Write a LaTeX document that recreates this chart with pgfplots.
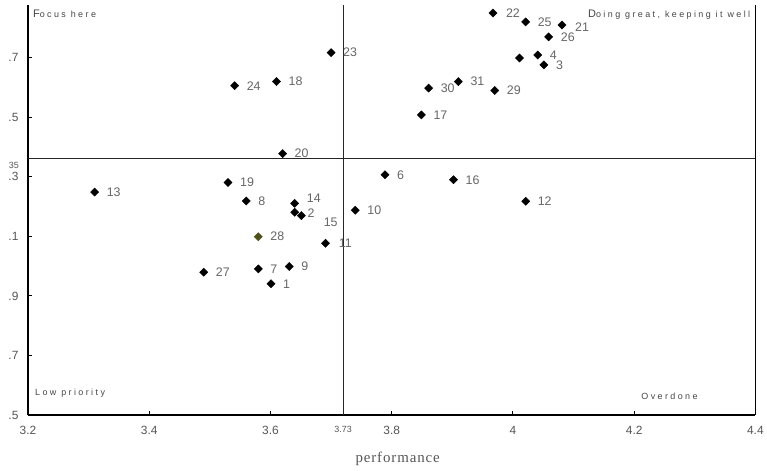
\documentclass[border=0pt]{standalone}
\usepackage{pgfplots}
\pgfplotsset{compat=1.18}
\usepackage{fontspec}
\setmainfont{Liberation Sans}
\newfontfamily\quadfont[LetterSpace=27]{Liberation Sans}
\newfontfamily\labfont[LetterSpace=6]{Liberation Serif}
\definecolor{lblgray}{HTML}{666666}
\definecolor{tickgray}{HTML}{555555}
\definecolor{quadgray}{HTML}{444444}
\definecolor{olivept}{HTML}{4F4F1A}
\begin{document}
\begin{tikzpicture}
\begin{axis}[
  scale only axis, width=729bp, height=411bp,
  xmin=3.2, xmax=4.4, ymin=3.5, ymax=4.877,
  axis x line*=bottom, axis y line*=left,
  axis line style={line width=1.6bp, black, -},
  xtick={3.2,3.4,3.6,3.8,4.0,4.2,4.4},
  xticklabels={3.2,3.4,3.6,3.8,4,4.2,4.4},
  ytick={3.5,3.7,3.9,4.1,4.3,4.5,4.7},
  yticklabels={.5,.7,.9,.1,.3,.5,.7},
  tick align=inside, major tick length=4bp,
  major tick style={line width=1bp, black},
  ticklabel style={font=\fontsize{12}{14}\selectfont, text=tickgray},
  xticklabel style={yshift=-8bp},
  yticklabel style={xshift=-6bp},
  /pgf/number format/assume math mode=true,
  xlabel={performance},
  xlabel style={font=\labfont\fontsize{15}{17}\selectfont, text=tickgray,
    at={(axis description cs:0.5,0)}, anchor=center, yshift=-44bp, xshift=6bp},
  clip=false,
]
\path (rel axis cs:0,0) ++(-28bp,-55bp);
\path (rel axis cs:1,1) ++(10bp,5bp);
\addplot[line width=1bp, color=black!85] coordinates {(3.72,3.5) (3.72,4.877)};
\addplot[line width=1bp, color=black!85] coordinates {(3.2,4.36) (4.4,4.36)};
\addplot[line width=1.6bp, color=black] coordinates {(4.4,3.5) (4.4,4.877)};

\addplot[only marks, mark=square*, mark options={rotate=45}, mark size=2.9bp, black,
  nodes near coords, point meta=explicit symbolic,
  visualization depends on={value \thisrow{dx}\as\dx},
  visualization depends on={value \thisrow{dy}\as\dy},
  nodes near coords style={anchor=west, inner sep=0pt, xshift=\dx bp, yshift=\dy bp,
    text=lblgray, font=\fontsize{12.5}{14}\selectfont}]
  table[x=x, y=y, meta=lab] {
x y lab dx dy
3.601 3.941 1 12 0
3.651 4.170 2 6 2
4.051 4.676 3 12 0
4.041 4.709 4 12 0
3.789 4.307 6 12 0
3.580 3.991 7 12 0
3.560 4.219 8 12 0
3.631 3.999 9 12 0
3.740 4.188 10 12 0
3.691 4.077 11 13 0
4.021 4.218 12 12 0
3.310 4.249 13 12 0
3.640 4.211 14 12 5
3.640 4.181 15 29 -10
3.902 4.290 16 12 0
3.849 4.508 17 12 0
3.610 4.620 18 12 0
3.530 4.281 19 12 0
3.620 4.378 20 12 0
4.081 4.810 21 13 -2
3.967 4.850 22 13 0
3.700 4.717 23 12 0
3.541 4.606 24 12 0
4.021 4.820 25 12 0
4.059 4.770 26 12 0
3.490 3.980 27 12 0
3.970 4.590 29 12 0
3.861 4.598 30 12 0
3.910 4.620 31 12 0
};

\addplot[only marks, mark=square*, mark options={rotate=45}, mark size=2.9bp, black]
  coordinates {(4.011,4.699)};

\addplot[only marks, mark=square*, mark options={rotate=45}, mark size=2.9bp, olivept,
  nodes near coords, point meta=explicit symbolic,
  nodes near coords style={anchor=west, inner sep=0pt, xshift=12bp,
    text=lblgray, font=\fontsize{12.5}{14}\selectfont}]
  coordinates {(3.580,4.099) [28]};

\node[anchor=north, inner sep=0pt, text=tickgray, font=\fontsize{9}{10}\selectfont]
  at (axis cs:3.72,3.5) [yshift=-11bp] {3.73};
\node[anchor=north east, inner sep=0pt, text=tickgray, font=\fontsize{9}{10}\selectfont]
  at (axis cs:3.2,4.36) [xshift=-9bp, yshift=-3bp] {35};

\node[anchor=north west, inner sep=0pt, text=quadgray, font=\quadfont\fontsize{9}{10}\selectfont]
  at (rel axis cs:0,1) [xshift=5bp, yshift=-5bp] {{\fontsize{11}{12}\selectfont F}ocus here};
\node[anchor=north east, inner sep=0pt, text=quadgray, font=\quadfont\fontsize{9}{10}\selectfont]
  at (rel axis cs:1,1) [xshift=-5bp, yshift=-5bp] {{\fontsize{11}{12}\selectfont D}oing great, keeping it well};
\node[anchor=base west, inner sep=0pt, text=quadgray, font=\quadfont\fontsize{9}{10}\selectfont]
  at (rel axis cs:0,0) [xshift=7bp, yshift=19.5bp] {Low priority};
\node[anchor=base west, inner sep=0pt, text=quadgray, font=\quadfont\fontsize{9}{10}\selectfont]
  at (rel axis cs:0.843,0) [yshift=16bp] {Overdone};
\end{axis}
\end{tikzpicture}
\end{document}
